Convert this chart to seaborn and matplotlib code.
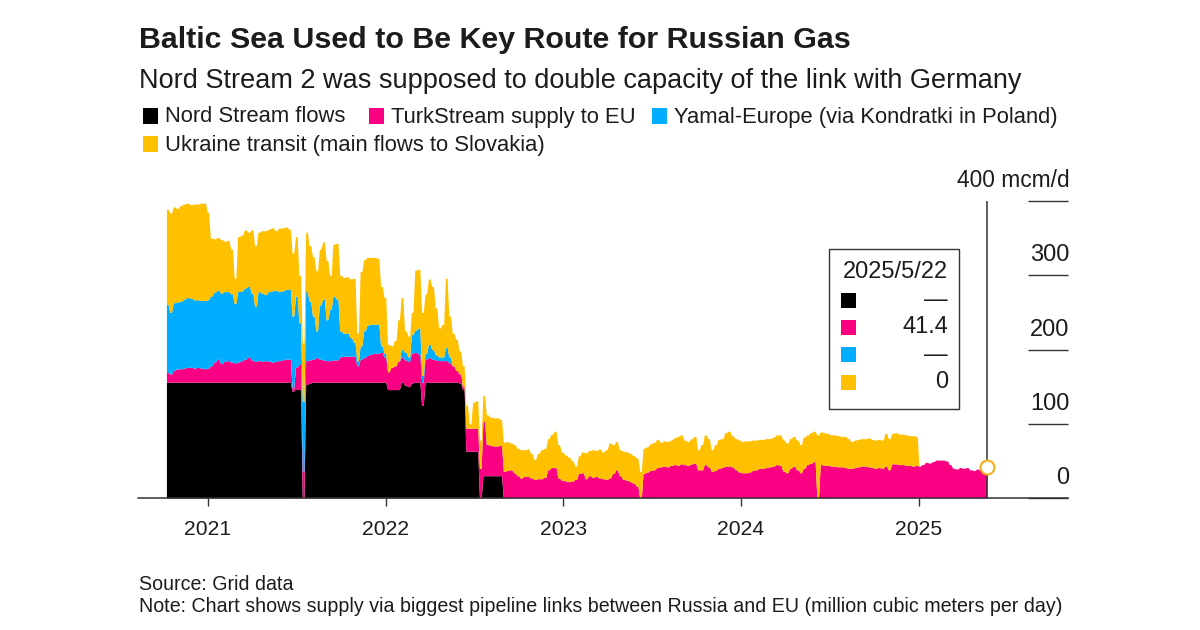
import matplotlib
matplotlib.use("Agg")
import matplotlib.pyplot as plt
from matplotlib.patches import Rectangle
import numpy as np
import pandas as pd
import seaborn as sns

# weekly readings, mcm/d
week_start = "2020-10-05"
last_day = "2025-05-22"

nord_stream = ([156] * 37 + [144, 147, 146, 0, 153, 155] + [156] * 22 + [146] * 4
               + [156, 152, 150, 155, 156, 156, 125] + [156] * 10 + [155, 146]
               + [63] * 4 + [0] + [30] * 6 + [0] * 143)

turkstream = [
    13, 11, 16, 18, 18, 19, 20, 20, 19, 20,
    19, 18, 19, 22, 27, 31, 25, 28, 29, 27,
    26, 27, 29, 31, 34, 30, 28, 29, 28, 29,
    28, 27, 28, 29, 30, 31, 31, 4, 29, 34,
    36, 32, 31, 31, 33, 31, 30, 29, 29, 30,
    30, 34, 35, 35, 35, 35, 22, 31, 33, 36,
    38, 39, 39, 40, 34, 24, 30, 32, 38, 34,
    34, 34, 40, 40, 38, 31, 31, 33, 31, 30,
    29, 29, 29, 26, 22, 16, 12, 4, 31, 31,
    31, 31, 40, 73, 42, 41, 40, 40, 41, 36,
    37, 38, 34, 30, 27, 29, 29, 27, 25, 26,
    26, 28, 38, 41, 41, 27, 24, 23, 22, 23,
    25, 33, 34, 26, 30, 28, 29, 27, 26, 25,
    27, 33, 38, 30, 25, 24, 22, 20, 16, 0,
    33, 35, 37, 38, 41, 42, 43, 42, 44, 45,
    44, 46, 45, 44, 46, 47, 38, 38, 45, 42,
    36, 37, 40, 41, 43, 43, 42, 38, 35, 34,
    34, 35, 37, 38, 40, 40, 41, 42, 43, 45,
    44, 36, 34, 40, 43, 38, 34, 40, 45, 47,
    49, 0, 45, 44, 44, 43, 43, 42, 42, 41,
    40, 40, 41, 42, 43, 43, 42, 41, 40, 41,
    40, 43, 38, 46, 46, 45, 45, 44, 44, 43,
    44, 43, 45, 48, 47, 49, 51, 51, 51, 50,
    45, 40, 39, 41, 40, 41, 38, 37, 39, 38,
    41, 41.4,
]

yamal = [
    92, 83, 91, 90, 91, 93, 94, 93, 92, 91,
    91, 92, 92, 94, 94, 93, 95, 94, 93, 92,
    80, 95, 94, 96, 95, 90, 74, 93, 92, 89,
    94, 96, 96, 93, 93, 94, 94, 97, 96, 56,
    94, 93, 79, 58, 36, 73, 82, 55, 69, 86,
    82, 35, 31, 31, 25, 19, 7, 18, 36, 41,
    40, 39, 39, 9, 5, 0, 0, 0, 0, 10,
    10, 6, 25, 30, 35, 9, 8, 18, 13, 7,
    5, 5, 18, 8,
] + [0] * 158

ukraine = [
    128, 134, 129, 126, 129, 128, 127, 126, 129, 129,
    131, 131, 118, 78, 72, 71, 72, 68, 69, 60,
    34, 74, 75, 78, 73, 85, 82, 80, 84, 86,
    84, 85, 80, 85, 85, 84, 81, 85, 80, 64,
    79, 80, 75, 80, 81, 75, 77, 80, 46, 70,
    75, 75, 75, 76, 79, 86, 37, 100, 96, 91,
    90, 90, 89, 80, 75, 37, 29, 34, 56, 70,
    29, 28, 30, 81, 79, 85, 80, 88, 85, 63,
    39, 44, 93, 55, 44, 42, 31, 28, 31, 6,
    35, 37, 38, 35, 40, 38, 38, 38, 35, 39,
    39, 36, 38, 37, 38, 36, 37, 33, 27, 34,
    39, 39, 42, 45, 49, 45, 38, 35, 33, 27,
    18, 24, 28, 35, 34, 37, 35, 39, 36, 40,
    47, 39, 38, 35, 38, 38, 38, 37, 38, 36,
    34, 34, 36, 37, 38, 33, 34, 34, 34, 36,
    39, 39, 33, 32, 34, 36, 27, 34, 40, 38,
    29, 35, 39, 39, 45, 47, 42, 42, 43, 42,
    43, 42, 41, 40, 39, 39, 39, 38, 39, 40,
    41, 42, 40, 40, 40, 40, 38, 42, 40, 41,
    41, 85, 44, 44, 43, 42, 42, 42, 41, 42,
    40, 36, 37, 37, 37, 37, 39, 38, 38, 38,
    38, 44, 42, 41, 42, 41, 41, 41, 40, 41,
    39,
] + [0] * 21

series_names = ["Nord Stream flows", "TurkStream supply to EU",
                "Yamal-Europe (via Kondratki in Poland)",
                "Ukraine transit (main flows to Slovakia)"]
series_colors = ["#000000", "#FA0082", "#00ADFF", "#FFC000"]
box_values = ["\u2014", "41.4", "\u2014", "0"]
box_date = "2025/5/22"
year_ticks = [2021, 2022, 2023, 2024, 2025]
value_ticks = [0, 100, 200, 300, 400]

INK = "#1c1c1c"
LINE = "#333333"
W, H = 1200, 630


def frac_year(d):
    return d.year + (d.dayofyear - 1) / 365.25


def put_text(fig, px, py, s, **kw):
    return fig.text(px / W, 1 - py / H, s, color=INK, va="center", **kw)


def put_square(fig, px, py, color, size=15, **kw):
    fig.add_artist(Rectangle((px / W, 1 - (py + size / 2) / H), size / W, size / H,
                             transform=fig.transFigure, color=color, lw=0, **kw))


dates = pd.date_range(week_start, periods=len(nord_stream), freq="7D")
years = np.array([frac_year(d) for d in dates])
end_year = frac_year(pd.Timestamp(last_day))

# each weekly reading fills two half-week bins, so poly edges stay steep at the jumps
edges = np.append(years, end_year)
mids = (edges[:-1] + edges[1:]) / 2
half_edges = np.sort(np.concatenate([edges, mids]))

df = pd.DataFrame({"year": (half_edges[:-1] + half_edges[1:]) / 2})
for name, vals in zip(series_names, [nord_stream, turkstream, yamal, ukraine]):
    df[name] = np.repeat(vals, 2)
long_df = df.melt(id_vars="year", var_name="route", value_name="flow")

sns.set_theme(style="white")
plt.rcParams["font.family"] = ["Liberation Sans", "DejaVu Sans"]

fig = plt.figure(figsize=(12, 6.3), dpi=100, facecolor="white")
ax = fig.add_axes([138 / W, 1 - 498 / H, 930 / W, 297 / H])

sns.histplot(data=long_df, x="year", weights="flow", hue="route", bins=half_edges.tolist(),
             hue_order=series_names[::-1], palette=dict(zip(series_names, series_colors)),
             multiple="stack", element="poly", alpha=1, linewidth=0, legend=False, ax=ax)

ax.set_xlim(2020.606, 2025.84)
ax.set_ylim(0, 400)
ax.set_xlabel("")
ax.set_ylabel("")
for side in ["top", "left", "right"]:
    ax.spines[side].set_visible(False)
ax.spines["bottom"].set_color(LINE)
ax.spines["bottom"].set_linewidth(1.1)

ax.set_xticks(year_ticks)
ax.tick_params(axis="x", bottom=True, length=6, width=1.0, color=LINE, pad=10,
               labelsize=15.2, labelcolor=INK)
ax.set_yticks(value_ticks)
ax.yaxis.tick_right()
ax.tick_params(axis="y", right=True, left=False, direction="in", length=29, width=1.0,
               color=LINE, labelright=False)

# value labels sit on top of their tick lines
for v in value_ticks:
    label = f"{v} mcm/d" if v == 400 else str(v)
    ax.annotate(label, (1, v), xycoords=("axes fraction", "data"), xytext=(1, 10),
                textcoords="offset points", ha="right", va="baseline",
                fontsize=16.4 if v == 400 else 17, color=INK)

ax.vlines(end_year, 0, 400, color=LINE, lw=1.1, zorder=4)
ax.plot([end_year], [turkstream[-1]], "o", ms=10, mfc="white", mec="#F5B324", mew=1.6,
        zorder=5, clip_on=False)

# headline block
put_text(fig, 139, 40, "Baltic Sea Used to Be Key Route for Russian Gas", fontsize=21.9, fontweight="bold")
put_text(fig, 139, 81, "Nord Stream 2 was supposed to double capacity of the link with Germany", fontsize=19.5)

legend_pos = [(143, 116), (369, 116), (652, 116), (143, 144)]
for (px, py), name, color in zip(legend_pos, series_names, series_colors):
    put_square(fig, px, py, color)
    put_text(fig, px + 22, py + 1, name, fontsize=15.8)

# readout box
fig.add_artist(Rectangle((829 / W, 1 - 409 / H), 130 / W, 160 / H, transform=fig.transFigure,
                         fc="white", ec=LINE, lw=1.0, zorder=6))
put_text(fig, 948, 272, box_date, fontsize=17, ha="right", zorder=7)
for py, color, val in zip([300, 327, 355, 382], series_colors, box_values):
    put_square(fig, 841, py, color, zorder=7)
    put_text(fig, 948, py, val, fontsize=17, ha="right", zorder=7)

put_text(fig, 139, 585, "Source: Grid data", fontsize=14.1)
put_text(fig, 139, 607, "Note: Chart shows supply via biggest pipeline links between Russia and EU (million cubic meters per day)",
         fontsize=14.1)

fig.savefig("out.png", dpi=100, facecolor="white")
